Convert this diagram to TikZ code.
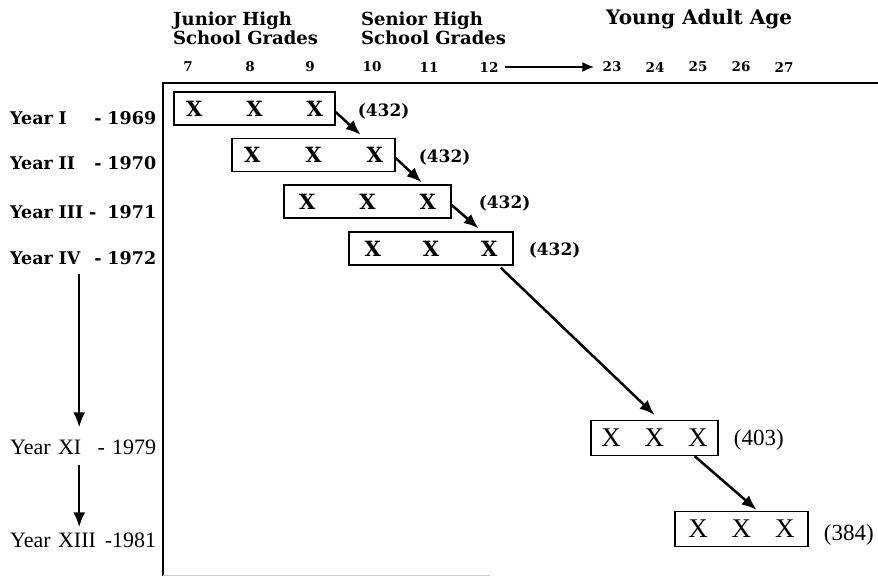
\documentclass[tikz,border=0pt]{standalone}
\usepackage{fontspec}
\setmainfont{Liberation Serif}
\newfontfamily\heavy{DejaVu Serif}
\usetikzlibrary{arrows.meta,positioning,calc}
\newcommand{\trio}[1]{X\hspace{#1}X\hspace{#1}X}

\begin{document}
\begin{tikzpicture}[x=1pt,y=-1pt,
  hd/.style={anchor=west, align=left, inner sep=0pt, font=\heavy\fontsize{18}{17}\selectfont\bfseries},
  num/.style={inner sep=0pt, font=\heavy\fontsize{13.5}{13.5}\selectfont\bfseries},
  yr/.style={anchor=west, text width=146pt, inner sep=0pt, font=\heavy\fontsize{17.5}{17.5}\selectfont\bfseries},
  yrl/.style={yr, font=\fontsize{22}{22}\selectfont},
  grp/.style={draw, line width=1.3pt, inner sep=0pt, minimum height=33pt, font=\heavy\fontsize{21}{21}\selectfont\bfseries},
  grpl/.style={grp, minimum height=35pt, font=\fontsize{27}{27}\selectfont},
  cnt/.style={anchor=west, inner sep=0pt, font=\heavy\fontsize{17}{17}\selectfont\bfseries},
  cntl/.style={cnt, font=\fontsize{23}{23}\selectfont},
  arr/.style={-{Latex[length=15pt,width=12pt]}, line width=2.5pt},
  hdarr/.style={-{Latex[length=12pt,width=10pt]}, line width=2.6pt}
]
  \useasboundingbox (0,0) rectangle (878,576);
  % frame
  \draw[line width=1.6pt] (163,576) |- (878,83);
  \draw[gray!40, line width=1pt] (163,575) -- (490,575);

  % headings
  \node[hd] (jr) at (173,28) {Junior High\\School Grades};
  \node[hd] (sr) at (361,28) {Senior High\\School Grades};
  \node[hd, font=\heavy\fontsize{20}{20}\selectfont\bfseries] (ya) at (606,19) {Young Adult Age};

  % grades and ages
  \node[num] (g7)  at (188,67) {7};
  \node[num] (g8)  at (250,67) {8};
  \node[num] (g9)  at (310,67) {9};
  \node[num] (g10) at (372,67) {10};
  \node[num] (g11) at (429,67) {11};
  \node[num] (g12) at (489,67) {12};
  \node[num] (a23) at (612,67) {23};
  \node[num] (a24) at (655,67) {24};
  \node[num] (a25) at (698,67) {25};
  \node[num] (a26) at (741,67) {26};
  \node[num] (a27) at (784,67) {27};
  \draw[hdarr, shorten <=6pt, shorten >=8pt] (g12) -- (a23);

  % years
  \node[yr]  (r1)  at (10,118) {Year I \hfill - 1969};
  \node[yr]  (r2)  at (10,163) {Year II \hfill - 1970};
  \node[yr]  (r3)  at (10,212) {Year III - \hfill 1971};
  \node[yr]  (r4)  at (10,258) {Year IV \hfill - 1972};
  \node[yrl] (r11) at (10,447) {Year XI \hfill - 1979};
  \node[yrl] (r13) at (10,540) {Year XIII \hfill -1981};
  \draw[arr, shorten <=9pt, shorten >=12pt] ([xshift=-4pt]r4.south) -- ([xshift=-4pt]r11.north);
  \draw[arr, shorten <=10pt, shorten >=5pt] ([xshift=-4pt]r11.south) -- ([xshift=-4pt]r13.north);

  % cohorts
  \node[grp, minimum width=161pt] (b1) at (254.5,108.5) {\trio{44pt}};
  \node[grp, minimum width=163pt] (b2) at (313.5,155) {\trio{45pt}};
  \node[grp, minimum width=167pt] (b3) at (367.5,201.5) {\trio{44pt}};
  \node[grp, minimum width=164pt] (b4) at (431,248.5) {\trio{42pt}};
  \node[grpl, minimum width=127pt] (b11) at (654.5,438) {\trio{24pt}};
  \node[grpl, minimum width=133pt] (b13) at (741.5,529) {\trio{24pt}};

  \node[cnt, right=22pt of b1, yshift=-2.5pt] (c1) {(432)};
  \node[cnt, right=23pt of b2, yshift=-2pt] (c2) {(432)};
  \node[cnt, right=27pt of b3, yshift=-2pt] (c3) {(432)};
  \node[cnt, right=15pt of b4, yshift=-1.5pt] (c4) {(432)};
  \node[cntl, right=15pt of b11, yshift=-2pt] (c11) {(403)};
  \node[cntl, right=15pt of b13, yshift=-6pt] (c13) {(384)};

  \draw[arr] ([yshift=-3.5pt]b1.east) -- ([xshift=-35pt,yshift=3pt]b2.north east);
  \draw[arr] ([yshift=-3pt]b2.east) -- ([xshift=-30pt,yshift=2pt]b3.north east);
  \draw[arr] ([yshift=-3.5pt]b3.east) -- ([xshift=-35pt,yshift=3pt]b4.north east);
  \draw[arr] ([xshift=-13pt,yshift=-2pt]b4.south east) -- ([yshift=5pt]b11.north);
  \draw[arr] ([xshift=-24pt]b11.south east) -- ([xshift=-52pt,yshift=1pt]b13.north east);
\end{tikzpicture}
\end{document}
